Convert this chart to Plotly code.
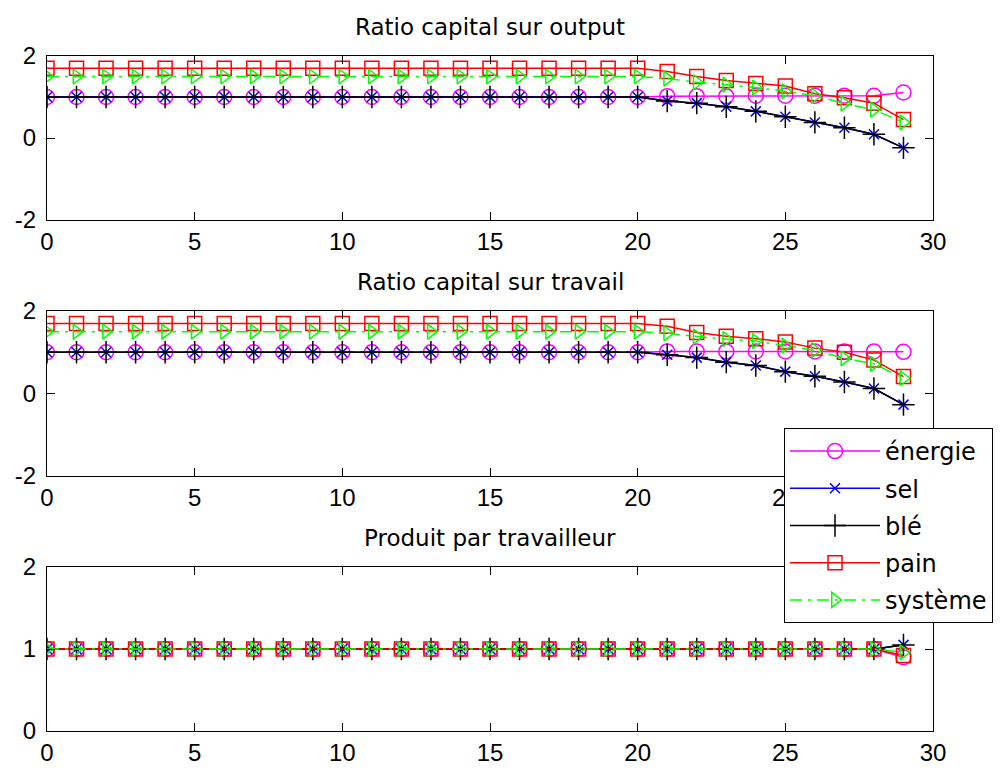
import plotly.graph_objects as go

# ---------------- data ----------------
periods = [0, 1, 2, 3, 4, 5, 6, 7, 8, 9, 10, 11, 12, 13, 14, 15, 16, 17, 18, 19,
           20, 21, 22, 23, 24, 25, 26, 27, 28, 29]

series_names = ["énergie", "sel", "blé", "pain", "système"]
subplot_titles = ["Ratio capital sur output", "Ratio capital sur travail", "Produit par travailleur"]
x_ticks = [0, 5, 10, 15, 20, 25, 30]

# Ratio capital sur output
energie_out = [1.00, 1.00, 1.00, 1.00, 1.00, 1.00, 1.00, 1.00, 1.00, 1.00,
               1.00, 1.00, 1.00, 1.00, 1.00, 1.00, 1.00, 1.00, 1.00, 1.00,
               1.00, 1.02, 1.02, 1.02, 1.03, 1.03, 1.03, 1.03, 1.03, 1.11]
sel_out = [1.00, 1.00, 1.00, 1.00, 1.00, 1.00, 1.00, 1.00, 1.00, 1.00,
           1.00, 1.00, 1.00, 1.00, 1.00, 1.00, 1.00, 1.00, 1.00, 1.00,
           1.00, 0.90, 0.85, 0.76, 0.65, 0.52, 0.38, 0.25, 0.09, -0.24]
ble_out = [1.00, 1.00, 1.00, 1.00, 1.00, 1.00, 1.00, 1.00, 1.00, 1.00,
           1.00, 1.00, 1.00, 1.00, 1.00, 1.00, 1.00, 1.00, 1.00, 1.00,
           1.00, 0.90, 0.85, 0.76, 0.65, 0.52, 0.38, 0.25, 0.09, -0.24]
pain_out = [1.70, 1.70, 1.70, 1.70, 1.70, 1.70, 1.70, 1.70, 1.70, 1.70,
            1.70, 1.70, 1.70, 1.70, 1.70, 1.70, 1.70, 1.70, 1.70, 1.70,
            1.70, 1.62, 1.50, 1.40, 1.33, 1.27, 1.08, 0.98, 0.85, 0.45]
systeme_out = [1.50, 1.50, 1.50, 1.50, 1.50, 1.50, 1.50, 1.50, 1.50, 1.50,
               1.50, 1.50, 1.50, 1.50, 1.50, 1.50, 1.50, 1.50, 1.50, 1.50,
               1.50, 1.45, 1.36, 1.30, 1.23, 1.14, 1.03, 0.84, 0.69, 0.38]

# Ratio capital sur travail
energie_tra = [1.00, 1.00, 1.00, 1.00, 1.00, 1.00, 1.00, 1.00, 1.00, 1.00,
               1.00, 1.00, 1.00, 1.00, 1.00, 1.00, 1.00, 1.00, 1.00, 1.00,
               1.00, 1.02, 1.02, 1.02, 1.02, 1.02, 1.02, 1.02, 1.02, 1.01]
sel_tra = [1.00, 1.00, 1.00, 1.00, 1.00, 1.00, 1.00, 1.00, 1.00, 1.00,
           1.00, 1.00, 1.00, 1.00, 1.00, 1.00, 1.00, 1.00, 1.00, 1.00,
           1.00, 0.94, 0.87, 0.76, 0.68, 0.53, 0.42, 0.28, 0.12, -0.27]
ble_tra = [1.00, 1.00, 1.00, 1.00, 1.00, 1.00, 1.00, 1.00, 1.00, 1.00,
           1.00, 1.00, 1.00, 1.00, 1.00, 1.00, 1.00, 1.00, 1.00, 1.00,
           1.00, 0.94, 0.87, 0.76, 0.68, 0.53, 0.42, 0.28, 0.12, -0.27]
pain_tra = [1.70, 1.70, 1.70, 1.70, 1.70, 1.70, 1.70, 1.70, 1.70, 1.70,
            1.70, 1.70, 1.70, 1.70, 1.70, 1.70, 1.70, 1.70, 1.70, 1.70,
            1.70, 1.63, 1.48, 1.39, 1.33, 1.25, 1.10, 1.00, 0.81, 0.41]
systeme_tra = [1.50, 1.50, 1.50, 1.50, 1.50, 1.50, 1.50, 1.50, 1.50, 1.50,
               1.50, 1.50, 1.50, 1.50, 1.50, 1.50, 1.50, 1.50, 1.50, 1.50,
               1.50, 1.46, 1.38, 1.32, 1.27, 1.16, 1.05, 0.85, 0.72, 0.37]

# Produit par travailleur
energie_prod = [1.00, 1.00, 1.00, 1.00, 1.00, 1.00, 1.00, 1.00, 1.00, 1.00,
                1.00, 1.00, 1.00, 1.00, 1.00, 1.00, 1.00, 1.00, 1.00, 1.00,
                1.00, 1.00, 1.00, 1.00, 1.00, 1.00, 1.00, 1.00, 1.00, 0.90]
sel_prod = [1.00, 1.00, 1.00, 1.00, 1.00, 1.00, 1.00, 1.00, 1.00, 1.00,
            1.00, 1.00, 1.00, 1.00, 1.00, 1.00, 1.00, 1.00, 1.00, 1.00,
            1.00, 1.00, 1.00, 1.00, 1.00, 1.00, 1.00, 1.00, 1.00, 1.05]
ble_prod = [1.00, 1.00, 1.00, 1.00, 1.00, 1.00, 1.00, 1.00, 1.00, 1.00,
            1.00, 1.00, 1.00, 1.00, 1.00, 1.00, 1.00, 1.00, 1.00, 1.00,
            1.00, 1.00, 1.00, 1.00, 1.00, 1.00, 1.00, 1.00, 1.00, 1.05]
pain_prod = [1.00, 1.00, 1.00, 1.00, 1.00, 1.00, 1.00, 1.00, 1.00, 1.00,
             1.00, 1.00, 1.00, 1.00, 1.00, 1.00, 1.00, 1.00, 1.00, 1.00,
             1.00, 1.00, 1.00, 1.00, 1.00, 1.00, 1.00, 1.00, 1.00, 0.92]
systeme_prod = [1.00, 1.00, 1.00, 1.00, 1.00, 1.00, 1.00, 1.00, 1.00, 1.00,
                1.00, 1.00, 1.00, 1.00, 1.00, 1.00, 1.00, 1.00, 1.00, 1.00,
                1.00, 1.00, 1.00, 1.00, 1.00, 1.00, 1.00, 1.00, 1.00, 0.96]

panels = [
    [energie_out, sel_out, ble_out, pain_out, systeme_out],
    [energie_tra, sel_tra, ble_tra, pain_tra, systeme_tra],
    [energie_prod, sel_prod, ble_prod, pain_prod, systeme_prod],
]
y_ranges = [[-2, 2], [-2, 2], [0, 2]]
y_ticks = [[-2, 0, 2], [-2, 0, 2], [0, 1, 2]]
y_ticklabels = [["-2", "0", "2"], ["-2", "0", "2"], ["0", "1", "2"]]

# ---------------- styles ----------------
styles = [
    dict(color="#FF00FF", symbol="circle-open", size=15, dash="solid"),
    dict(color="#0000FF", symbol="x-thin-open", size=10, dash="solid"),
    dict(color="#000000", symbol="cross-thin-open", size=16, dash="solid"),
    dict(color="#FF0000", symbol="square-open", size=14, dash="solid"),
    dict(color="#00FF00", symbol="triangle-right-open", size=13, dash="12px,6px,3px,6px"),
]

TICK_FONT = "Liberation Sans, Arial, sans-serif"
TEXT_FONT = "DejaVu Sans, Verdana, sans-serif"
W, H = 1008, 769
ML, MR, MT, MB = 47, 75, 56, 38
plot_h = H - MT - MB
# pixel rows of each axes box (top, bottom)
boxes = [(56, 220), (311, 476), (567, 731)]

fig = go.Figure()
for p, series in enumerate(panels):
    xa = "x" if p == 0 else f"x{p+1}"
    ya = "y" if p == 0 else f"y{p+1}"
    for name, vals, st in zip(series_names, series, styles):
        fig.add_trace(go.Scatter(
            x=periods, y=vals, name=name, mode="lines+markers",
            xaxis=xa, yaxis=ya, legendgroup=name, showlegend=(p == 0),
            line=dict(color=st["color"], width=1.5, dash=st["dash"]),
            marker=dict(symbol=st["symbol"], size=st["size"], color=st["color"],
                        line=dict(color=st["color"], width=1.5)),
        ))

layout = dict(
    width=W, height=H,
    margin=dict(l=ML, r=MR, t=MT, b=MB, pad=0),
    paper_bgcolor="white", plot_bgcolor="white",
    font=dict(family=TICK_FONT, size=24, color="#000000"),
    legend=dict(
        x=(784 - ML) / (W - ML - MR), y=(H - MB - 428) / plot_h,
        xanchor="left", yanchor="top",
        bgcolor="white", bordercolor="black", borderwidth=1,
        font=dict(family=TEXT_FONT, size=24, color="#000000"),
        itemsizing="trace", itemwidth=90,
        tracegroupgap=3,
    ),
    annotations=[],
)

axis_common = dict(
    showline=True, linecolor="black", linewidth=1, mirror="ticks",
    ticks="inside", ticklen=8, tickwidth=1, tickcolor="black",
    showgrid=False, zeroline=False, automargin=False,
    tickfont=dict(family=TICK_FONT, size=24, color="#000000"),
)

for p in range(3):
    top, bot = boxes[p]
    dom = [(H - MB - bot) / plot_h, (H - MB - top) / plot_h]
    xkey = "xaxis" if p == 0 else f"xaxis{p+1}"
    ykey = "yaxis" if p == 0 else f"yaxis{p+1}"
    yref = "y" if p == 0 else f"y{p+1}"
    xref = "x" if p == 0 else f"x{p+1}"
    layout[xkey] = dict(axis_common, range=[0, 30], tickvals=x_ticks,
                        anchor=yref, domain=[0, 1])
    layout[ykey] = dict(axis_common, range=y_ranges[p], tickvals=y_ticks[p],
                        ticktext=y_ticklabels[p],
                        anchor=xref, domain=dom, ticklabelstandoff=5)
    layout["annotations"].append(dict(
        text=subplot_titles[p], xref=f"{xref} domain", yref=f"{yref} domain",
        x=0.5, y=1, xanchor="center", yanchor="middle", yshift=29,
        showarrow=False, font=dict(family=TEXT_FONT, size=23, color="#000000"),
    ))

fig.update_layout(**layout)
fig.write_html("out.html", config={"displayModeBar": False},
               post_script="document.body.style.margin='0px';")
